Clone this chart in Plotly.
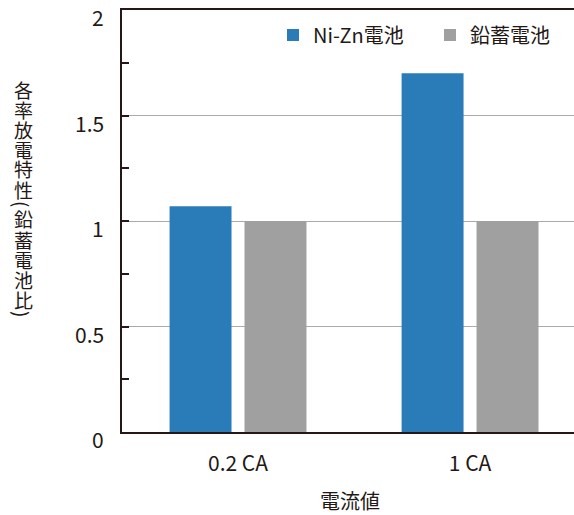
import plotly.graph_objects as go

# Discharge-rate characteristics relative to a lead-acid battery
categories = ["0.2 CA", "1 CA"]
nizn_values = [1.07, 1.70]
lead_values = [1.00, 1.00]
series_names = ["Ni-Zn電池", "鉛蓄電池"]
y_tick_values = [0, 0.5, 1, 1.5, 2]
y_tick_labels = ["0", "0.5", "1", "1.5", "2"]
x_title = "電流値"
y_title = "各率放電特性(鉛蓄電池比)"

W, H = 574, 515
ML, MR, MT, MB = 122, 0, 10, 83
PW, PH = W - ML - MR, H - MT - MB

FONT = "Noto Sans CJK JP, Noto Sans, sans-serif"
INK = "#231815"
BLUE = "#2a7cb8"
GRAY = "#a0a0a0"


def px_x(px):
    return (px - ML) / PW


def px_y(py):
    return (MT + PH - py) / PH


fig = go.Figure()
fig.add_trace(go.Bar(
    x=categories, y=nizn_values, name=series_names[0],
    marker=dict(color=BLUE, line=dict(width=0)),
    width=0.267, offset=-0.295,
))
fig.add_trace(go.Bar(
    x=categories, y=lead_values, name=series_names[1],
    marker=dict(color=GRAY, line=dict(width=0)),
    width=0.267, offset=0.028,
))

annotations = []
# y tick labels, set slightly below their ticks
for v, t in zip(y_tick_values, y_tick_labels):
    annotations.append(dict(
        x=0, xref="paper", xanchor="right", xshift=-16,
        y=v, yref="y", yanchor="middle", yshift=-7,
        text=t, showarrow=False,
        font=dict(family=FONT, size=21, color=INK),
    ))

# vertical (tategaki) y title, one glyph per annotation
cursor = 79
for ch in y_title:
    if ch in "()":
        step = 10
        angle = 90
    else:
        step = 20
        angle = 0
    center = cursor + step / 2
    annotations.append(dict(
        x=px_x(23), xref="paper", xanchor="center",
        y=px_y(center), yref="paper", yanchor="middle",
        text=ch, textangle=angle, showarrow=False,
        font=dict(family=FONT, size=19, color=INK),
    ))
    cursor += step

# x axis title
annotations.append(dict(
    x=px_x(350), xref="paper", xanchor="center",
    y=px_y(500), yref="paper", yanchor="middle",
    text=x_title, showarrow=False,
    font=dict(family=FONT, size=20, color=INK),
))

fig.update_layout(
    width=W, height=H,
    margin=dict(l=ML, r=MR, t=MT, b=MB, pad=0, autoexpand=False),
    paper_bgcolor="white", plot_bgcolor="white",
    barmode="overlay",
    font=dict(family=FONT, color=INK),
    showlegend=True,
    legend=dict(
        orientation="h",
        x=px_x(273), xanchor="left",
        y=px_y(35), yanchor="middle",
        font=dict(family=FONT, size=20, color=INK),
        entrywidth=112,
        bgcolor="rgba(0,0,0,0)",
        traceorder="normal",
    ),
    annotations=annotations,
)

fig.update_xaxes(
    range=[-0.5, 1.448],
    showline=True, linecolor=INK, linewidth=2, mirror=True,
    showgrid=False, ticks="",
    tickfont=dict(family=FONT, size=21, color=INK),
    ticklabelstandoff=12,
    zeroline=False, fixedrange=True,
)
fig.update_yaxes(
    range=[0, 2],
    tickvals=y_tick_values,
    showticklabels=False,
    showline=True, linecolor=INK, linewidth=2, mirror=False,
    ticks="inside", ticklen=7, tickwidth=1.5, tickcolor=INK,
    showgrid=True, gridcolor="#aaaaaa", gridwidth=1,
    minor=dict(dtick=0.25, ticks="inside", ticklen=7, tickwidth=1.5,
               tickcolor=INK, showgrid=False),
    zeroline=False, fixedrange=True,
)

fig.write_html("out.html")
